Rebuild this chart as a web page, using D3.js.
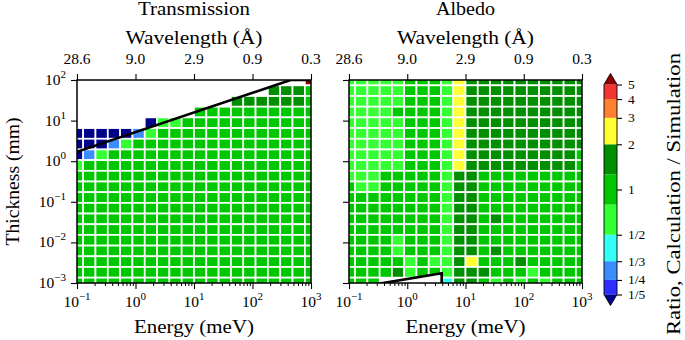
<!DOCTYPE html>
<html>
<head>
<meta charset="utf-8">
<script src="https://cdn.jsdelivr.net/npm/d3@7"></script>
<style>
  body { margin: 0; background: #fff; }
  text { font-family: "Liberation Serif", "Times New Roman", serif; fill: #000; }
</style>
</head>
<body>
<svg id="chart" width="685" height="340"></svg>
<script>
const _ = null;

// grid centres (meV and mm)
const energyCenters = [0.1, 0.1624, 0.2637, 0.4281, 0.6952, 1.129, 1.833, 2.976, 4.833, 7.848,
  12.74, 20.69, 33.6, 54.56, 88.59, 143.8, 233.6, 379.3, 615.8, 1000];
const thicknessCenters = [0.001, 0.001833, 0.00336, 0.006158, 0.01129, 0.02069, 0.03793, 0.06952,
  0.1274, 0.2336, 0.4281, 0.7848, 1.438, 2.637, 4.833, 8.859, 16.24, 29.76, 54.56, 100];

// ratio calculation / simulation, rows from thickest (top) to thinnest (bottom)
const transmission = [
  [_, _, _, _, _, _, _, _, _, _, _, _, _, _, _, _, _, _, _, 6],
  [_, _, _, _, _, _, _, _, _, _, _, _, _, _, _, _, 1.5, 1.5, 1.5, 1],
  [_, _, _, _, _, _, _, _, _, _, _, _, _, 1.5, 1.5, 1.5, 1.5, 1.5, 1.5, 1],
  [_, _, _, _, _, _, _, _, _, _, 1, 1, 1, 1, 1, 1, 1, 1, 1, 1],
  [_, _, _, _, _, _, .15, .7, .7, 1, 1, 1, 1, 1, 1, 1, 1, 1, 1, 1],
  [.15, .15, .15, .15, .15, .3, .7, 1, 1, 1, 1, 1, 1, 1, 1, 1, 1, 1, 1, 1],
  [.15, .15, .15, .3, .7, 1, 1, 1, 1, 1, 1, 1, 1, 1, 1, 1, 1, 1, 1, 1],
  [.15, .3, .7, 1, 1, 1, 1, 1, 1, 1, 1, 1, 1, 1, 1, 1, 1, 1, 1, 1],
  [.7, 1, 1, 1, 1, 1, 1, 1, 1, 1, 1, 1, 1, 1, 1, 1, 1, 1, 1, 1],
  [1, 1, 1, 1, 1, 1, 1, 1, 1, 1, 1, 1, 1, 1, 1, 1, 1, 1, 1, 1],
  [1, 1, 1, 1, 1, 1, 1, 1, 1, 1, 1, 1, 1, 1, 1, 1, 1, 1, 1, 1],
  [1, 1, 1, 1, 1, 1, 1, 1, 1, 1, 1, 1, 1, 1, 1, 1, 1, 1, 1, 1],
  [1, 1, 1, 1, 1, 1, 1, 1, 1, 1, 1, 1, 1, 1, 1, 1, 1, 1, 1, 1],
  [1, 1, 1, 1, 1, 1, 1, 1, 1, 1, 1, 1, 1, 1, 1, 1, 1, 1, 1, 1],
  [1, 1, 1, 1, 1, 1, 1, 1, 1, 1, 1, 1, 1, 1, 1, 1, 1, 1, 1, 1],
  [1, 1, 1, 1, 1, 1, 1, 1, 1, 1, 1, 1, 1, 1, 1, 1, 1, 1, 1, 1],
  [1, 1, 1, 1, 1, 1, 1, 1, 1, 1, 1, 1, 1, 1, 1, 1, 1, 1, 1, 1],
  [1, 1, 1, 1, 1, 1, 1, 1, 1, 1, 1, 1, 1, 1, 1, 1, 1, 1, 1, 1],
  [1, 1, 1, 1, 1, 1, 1, 1, 1, 1, 1, 1, 1, 1, 1, 1, 1, 1, 1, 1],
  [1, 1, 1, 1, 1, 1, 1, 1, 1, 1, 1, 1, 1, 1, 1, 1, 1, 1, 1, 1]
];
const albedo = [
  [.7, .7, .7, .7, .7, 1, 1, 1, .7, 2.5, 1.5, 1.5, 1.5, 1.5, 1.5, 1.5, 1.5, 1.5, 1.5, 1.5],
  [.7, .7, .7, .7, .7, 1, 1, 1, .7, 2.5, 1.5, 1.5, 1.5, 1.5, 1.5, 1.5, 1.5, 1.5, 1.5, 1.5],
  [.7, .7, .7, .7, .7, 1, 1, 1, .7, 2.5, 1.5, 1.5, 1.5, 1.5, 1.5, 1.5, 1.5, 1.5, 1.5, 1.5],
  [.7, .7, .7, .7, 1, 1, 1, 1, .7, 2.5, 1.5, 1.5, 1.5, 1.5, 1.5, 1.5, 1.5, 1.5, 1.5, 1.5],
  [.7, .7, .7, .7, .7, 1, 1, 1, .7, 2.5, 1.5, 1.5, 1.5, 1.5, 1.5, 1.5, 1.5, 1.5, 1.5, 1.5],
  [.7, .7, .7, .7, .7, 1, 1, 1, .7, 2.5, 1.5, 1.5, 1.5, 1.5, 1.5, 1.5, 1.5, 1.5, 1.5, 1.5],
  [.7, .7, .7, .7, .7, 1, 1, 1, .7, 2.5, 1.5, 1.5, 1.5, 1.5, 1.5, 1.5, 1.5, 1.5, 1.5, 1.5],
  [.7, .7, .7, .7, .7, 1, 1, 1, .7, 2.5, 1.5, 1.5, 1.5, 1.5, 1.5, 1.5, 1.5, 1.5, 1.5, 1],
  [.7, .7, .7, .7, .7, 1, 1, 1, .7, 2.5, 1.5, 1.5, 1.5, 1.5, 1.5, 1.5, 1.5, 1.5, 1.5, 1],
  [.7, .7, .7, 1, 1, 1, 1, 1, .7, 1.5, 1.5, 1, 1, 1, 1, 1, 1, 1, 1, 1],
  [1, .7, .7, 1, 1, 1, 1, 1, .7, 1.5, 1.5, 1, 1, 1, 1, 1, 1, 1, 1, 1],
  [1, 1, 1, 1, 1, 1, 1, 1, .7, 1.5, 1.5, 1, 1, 1, 1, 1, 1, 1, 1, 1],
  [1, 1, 1, 1, 1, 1, 1, 1, .7, 1.5, 1.5, 1, 1, 1, 1, 1, 1, 1, 1, 1],
  [1, 1, 1, 1, 1, 1, 1, 1, .7, 1.5, 1.5, 1, 1.5, 1, 1, 1, 1, 1, 1, 1],
  [1, 1, 1, 1, 1, 1, 1, 1, .7, 1.5, 1.5, 1, 1, 1, 1, 1, 1, 1, 1, 1],
  [1, 1, 1, 1, .7, 1, 1, 1, .7, 1.5, 1.5, 1, 1, 1, 1, 1, 1, 1, 1, 1],
  [1, 1, 1, 1, .7, 1, 1, 1, .7, 1.5, 1.5, 1, 1.5, 1, 1, 1, 1, 1, 1, 1],
  [1, 1, 1, 1, 1, .7, 1, .7, .7, 1.5, 2.5, 1, 1, 1, 1.5, 1, 1, 1, 1, 1],
  [1, 1, 1, 1, 1.5, .7, 1, 1, .7, 1.5, 1.5, 1.5, 1, 1, 1, .7, 1, 1, 1, 1],
  [1, 1, 1, _, _, _, _, _, .4, 1.5, 1.5, 1, .7, 1, .7, 1, .7, 1, 1, 1]
];

// limit curves
const transLineE = [0.1, 450, 1000];
const transLineT = [1.7, 100, 100];
const albedoLineE = [0.3, 3.9, 3.9];
const albedoLineT = [0.00094, 0.00173, 0.0009];

// colour classes
const ratioBounds = [1/5, 1/4, 1/3, 1/2, Math.pow(2, -1/3), Math.pow(2, 1/3), 2, 3, 4, 5];
const ratioColors = ["#00008b", "#2e2eff", "#3a8cff", "#33fff5", "#33ff33", "#00c800",
  "#008f00", "#ffff33", "#ff8030", "#f53333", "#8b0000"];
const cbarTicks = [1/5, 1/4, 1/3, 1/2, 1, 2, 3, 4, 5];
const cbarTickLabels = ["1/5", "1/4", "1/3", "1/2", "1", "2", "3", "4", "5"];

// axes
const energyTicks = [0.1, 1, 10, 100, 1000];
const energyExp = [-1, 0, 1, 2, 3];
const wavelengthLabels = ["28.6", "9.0", "2.9", "0.9", "0.3"];
const thicknessTicks = [1e-3, 1e-2, 1e-1, 1, 10, 100];
const thicknessExp = [-3, -2, -1, 0, 1, 2];

const svg = d3.select("#chart");
const plotTop = 80, plotBottom = 283;
const colour = d3.scaleThreshold().domain(ratioBounds).range(ratioColors);

function edges(c) {
  const e = [c[0] / Math.sqrt(c[1] / c[0])];
  for (let i = 1; i < c.length; i++) e.push(Math.sqrt(c[i - 1] * c[i]));
  const n = c.length - 1;
  e.push(c[n] * Math.sqrt(c[n] / c[n - 1]));
  return e;
}
const eEdges = edges(energyCenters);
const tEdges = edges(thicknessCenters);

function pow10(text, exp) {
  text.append("tspan").text("10");
  text.append("tspan").attr("dy", -7).attr("font-size", 11)
    .text(exp < 0 ? "\u2212" + (-exp) : exp);
}

const panels = [
  { title: "Transmission", data: transmission, left: 77, right: 311,
    lineE: transLineE, lineT: transLineT, fillBelow: false, yLabels: true },
  { title: "Albedo", data: albedo, left: 349, right: 582,
    lineE: albedoLineE, lineT: albedoLineT, fillBelow: true, yLabels: false }
];

panels.forEach((p, pi) => {
  const x = d3.scaleLog().domain([0.1, 1000]).range([p.left, p.right]);
  const y = d3.scaleLog().domain([0.001, 100]).range([plotBottom, plotTop]);
  const clipId = "clip" + pi;
  svg.append("clipPath").attr("id", clipId).append("rect")
    .attr("x", p.left).attr("y", plotTop)
    .attr("width", p.right - p.left).attr("height", plotBottom - plotTop);

  const g = svg.append("g").attr("clip-path", `url(#${clipId})`);
  const cells = [];
  p.data.forEach((row, r) => {
    const j = row.length - 1 - r;
    row.forEach((v, k) => { if (v !== null) cells.push({ k, j, v }); });
  });
  g.selectAll("rect.cell").data(cells).join("rect")
    .attr("class", "cell")
    .attr("x", d => x(eEdges[d.k]))
    .attr("width", d => x(eEdges[d.k + 1]) - x(eEdges[d.k]))
    .attr("y", d => y(tEdges[d.j + 1]))
    .attr("height", d => y(tEdges[d.j]) - y(tEdges[d.j + 1]))
    .attr("fill", d => colour(d.v))
    .attr("stroke", "#fff")
    .attr("stroke-width", 1.7);

  const pts = p.lineE.map((e, i) => [x(e), y(p.lineT[i])]);
  if (p.fillBelow) {
    const poly = pts.concat([[pts[pts.length - 1][0], plotBottom + 5], [pts[0][0], plotBottom + 5]]);
    g.append("path").attr("d", "M" + poly.join("L") + "Z").attr("fill", "#fff");
  }
  g.append("path").attr("d", d3.line()(pts))
    .attr("fill", "none").attr("stroke", "#000").attr("stroke-width", 2.6)
    .attr("stroke-linejoin", "miter");

  // bottom axis: major + minor ticks
  const minor = x.ticks().filter(t => energyTicks.indexOf(t) < 0);
  svg.append("g").attr("transform", `translate(0,${plotBottom})`)
    .call(d3.axisBottom(x).tickValues(minor).tickFormat("").tickSize(3).tickSizeOuter(0))
    .call(a => a.select(".domain").remove());
  const bx = svg.append("g").attr("transform", `translate(0,${plotBottom})`)
    .call(d3.axisBottom(x).tickValues(energyTicks).tickFormat("").tickSize(6).tickSizeOuter(0));
  bx.select(".domain").remove();
  bx.selectAll("line").attr("stroke-width", 1.1);
  energyTicks.forEach((t, i) => {
    const tx = svg.append("text").attr("x", x(t)).attr("y", 307)
      .attr("text-anchor", "middle").attr("font-size", 15.5);
    pow10(tx, energyExp[i]);
  });

  // top axis: wavelength
  const tx = svg.append("g").attr("transform", `translate(0,${plotTop})`)
    .call(d3.axisTop(x).tickValues(energyTicks).tickFormat("").tickSize(6).tickSizeOuter(0));
  tx.select(".domain").remove();
  tx.selectAll("line").attr("stroke-width", 1.1);
  energyTicks.forEach((t, i) => {
    svg.append("text").attr("x", x(t)).attr("y", 64)
      .attr("text-anchor", "middle").attr("font-size", 15.5).text(wavelengthLabels[i]);
  });

  // left axis
  const ly = svg.append("g").attr("transform", `translate(${p.left},0)`)
    .call(d3.axisLeft(y).tickValues(thicknessTicks).tickFormat("").tickSize(6).tickSizeOuter(0));
  ly.select(".domain").remove();
  ly.selectAll("line").attr("stroke-width", 1.1);
  if (p.yLabels) {
    thicknessTicks.forEach((t, i) => {
      const ty = svg.append("text").attr("x", 66).attr("y", y(t) + 5)
        .attr("text-anchor", "end").attr("font-size", 15.5);
      pow10(ty, thicknessExp[i]);
    });
  }

  // frame
  svg.append("rect").attr("x", p.left).attr("y", plotTop)
    .attr("width", p.right - p.left).attr("height", plotBottom - plotTop)
    .attr("fill", "none").attr("stroke", "#000").attr("stroke-width", 1.5);

  const cx = (p.left + p.right) / 2;
  svg.append("text").attr("x", cx).attr("y", 15).attr("text-anchor", "middle")
    .attr("font-size", 18).attr("textLength", pi === 0 ? 112 : 59)
    .attr("lengthAdjust", "spacingAndGlyphs").text(p.title);
  svg.append("text").attr("x", cx).attr("y", 44).attr("text-anchor", "middle")
    .attr("font-size", 18).attr("textLength", 137)
    .attr("lengthAdjust", "spacingAndGlyphs").text("Wavelength (Å)");
  svg.append("text").attr("x", cx).attr("y", 333).attr("text-anchor", "middle")
    .attr("font-size", 18).attr("textLength", 120)
    .attr("lengthAdjust", "spacingAndGlyphs").text("Energy (meV)");
});

svg.append("text").attr("transform", "translate(19,181.5) rotate(-90)")
  .attr("text-anchor", "middle").attr("font-size", 18)
  .attr("textLength", 128).attr("lengthAdjust", "spacingAndGlyphs")
  .text("Thickness (mm)");

// colour bar
const cbLeft = 604, cbRight = 617, cbMid = (cbLeft + cbRight) / 2;
const cb = d3.scaleLog().domain([1/5, 5]).range([294.5, 84.5]);
const cbar = svg.append("g");
for (let i = 0; i < ratioBounds.length - 1; i++) {
  cbar.append("rect").attr("x", cbLeft).attr("width", cbRight - cbLeft)
    .attr("y", cb(ratioBounds[i + 1]))
    .attr("height", cb(ratioBounds[i]) - cb(ratioBounds[i + 1]))
    .attr("fill", ratioColors[i + 1]);
}
const topY = cb(5), botY = cb(1/5);
cbar.append("path").attr("d", `M${cbLeft},${topY}L${cbMid},${topY - 11}L${cbRight},${topY}Z`)
  .attr("fill", ratioColors[ratioColors.length - 1]);
cbar.append("path").attr("d", `M${cbLeft},${botY}L${cbMid},${botY + 11}L${cbRight},${botY}Z`)
  .attr("fill", ratioColors[0]);
cbar.append("path")
  .attr("d", `M${cbLeft},${topY}L${cbMid},${topY - 11}L${cbRight},${topY}L${cbRight},${botY}L${cbMid},${botY + 11}L${cbLeft},${botY}Z`)
  .attr("fill", "none").attr("stroke", "#000").attr("stroke-width", 0.9);
const cax = svg.append("g").attr("transform", `translate(${cbRight},0)`)
  .call(d3.axisRight(cb).tickValues(cbarTicks).tickFormat("").tickSize(5).tickSizeOuter(0));
cax.select(".domain").remove();
cax.selectAll("line").attr("stroke-width", 1.1);
cbarTicks.forEach((t, i) => {
  svg.append("text").attr("x", 628).attr("y", cb(t) + 4.5).attr("font-size", 13.5)
    .text(cbarTickLabels[i]);
});
svg.append("text").attr("transform", "translate(680,194) rotate(-90)")
  .attr("text-anchor", "middle").attr("font-size", 18)
  .attr("textLength", 282).attr("lengthAdjust", "spacingAndGlyphs")
  .text("Ratio, Calculation / Simulation");
</script>
</body>
</html>
